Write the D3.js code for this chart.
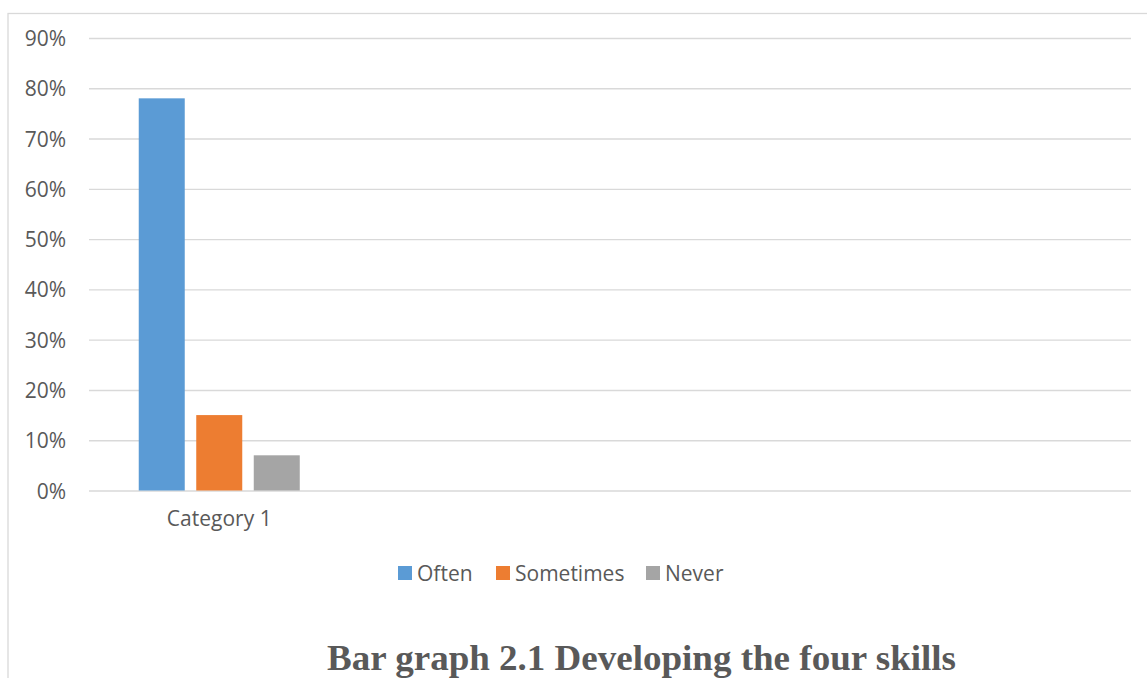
<!DOCTYPE html>
<html>
<head>
<meta charset="utf-8">
<script src="https://cdn.jsdelivr.net/npm/d3@7"></script>
<style>
  html, body { margin: 0; padding: 0; background: #fff; }
  svg { display: block; }
</style>
</head>
<body>
<svg id="chart" width="1147" height="678"></svg>
<script>
// Survey responses, one group per category
const categories = ["Category 1", "", "", ""];
const seriesNames = ["Often", "Sometimes", "Never"];
const seriesColors = ["#5b9bd5", "#ed7d31", "#a5a5a5"];
const often = [0.78, null, null, null];
const sometimes = [0.15, null, null, null];
const never = [0.07, null, null, null];
const yTicks = [0, 0.1, 0.2, 0.3, 0.4, 0.5, 0.6, 0.7, 0.8, 0.9];
const titleText = "Bar graph 2.1 Developing the four skills";

const seriesValues = [often, sometimes, never];

const svg = d3.select("#chart");
const W = 1147, H = 678;
const plot = { left: 89, right: 1131, top: 38, bottom: 490.5 };
const textColor = "#595959";
const gridColor = "#d9d9d9";
const labelFont = "'Open Sans', 'Noto Sans', sans-serif";
const labelSize = "21px";

// outer chart frame
svg.append("rect")
  .attr("x", 8).attr("y", 13.5)
  .attr("width", W + 10).attr("height", H + 10)
  .attr("fill", "none").attr("stroke", gridColor).attr("stroke-width", 1.3);

const y = d3.scaleLinear().domain([0, 0.9]).range([plot.bottom, plot.top]);
const x0 = d3.scaleBand().domain(d3.range(categories.length))
  .range([plot.left, plot.right]).padding(0);
const x1 = d3.scaleBand().domain(seriesNames)
  .range([0, x0.bandwidth()]).paddingInner(0.2).paddingOuter(0.865);

// horizontal gridlines + tick labels
const yAxis = d3.axisLeft(y).tickValues(yTicks)
  .tickFormat(d3.format(".0%"))
  .tickSize(-(plot.right - plot.left)).tickPadding(23);
const gy = svg.append("g").attr("transform", `translate(${plot.left},0)`).call(yAxis);
gy.select(".domain").remove();
gy.selectAll(".tick line").attr("stroke", gridColor).attr("stroke-width", 1.4);
gy.selectAll(".tick text")
  .attr("fill", textColor)
  .style("font-family", labelFont)
  .style("font-size", labelSize)
  .attr("dy", "0.36em");

// bars
const bars = svg.append("g");
categories.forEach((cat, ci) => {
  seriesNames.forEach((name, si) => {
    const v = seriesValues[si][ci];
    if (v == null) return;
    bars.append("rect")
      .attr("x", x0(ci) + x1(name))
      .attr("y", y(v))
      .attr("width", x1.bandwidth())
      .attr("height", y(0) - y(v))
      .attr("fill", seriesColors[si]);
  });
});

// category labels
const xAxis = d3.axisBottom(x0).tickFormat(i => categories[i]).tickSize(0).tickPadding(21);
const gx = svg.append("g").attr("transform", `translate(0,${plot.bottom})`).call(xAxis);
gx.select(".domain").remove();
gx.selectAll(".tick text")
  .attr("fill", textColor)
  .style("font-family", labelFont)
  .style("font-size", labelSize);

// legend
const legendY = 573;
const legendItems = [
  { name: seriesNames[0], color: seriesColors[0], x: 398 },
  { name: seriesNames[1], color: seriesColors[1], x: 496 },
  { name: seriesNames[2], color: seriesColors[2], x: 646 }
];
const lg = svg.append("g");
legendItems.forEach(it => {
  lg.append("rect")
    .attr("x", it.x).attr("y", legendY - 7)
    .attr("width", 14).attr("height", 14)
    .attr("fill", it.color);
  lg.append("text")
    .attr("x", it.x + 19).attr("y", legendY)
    .attr("dy", "0.36em")
    .attr("fill", textColor)
    .style("font-family", labelFont)
    .style("font-size", labelSize)
    .text(it.name);
});

// caption title
svg.append("text")
  .attr("x", 327).attr("y", 670)
  .attr("fill", "#595959")
  .attr("textLength", 629)
  .attr("lengthAdjust", "spacingAndGlyphs")
  .style("font-family", "'Liberation Serif', 'Times New Roman', serif")
  .style("font-weight", "bold")
  .style("font-size", "36px")
  .text(titleText);
</script>
</body>
</html>
